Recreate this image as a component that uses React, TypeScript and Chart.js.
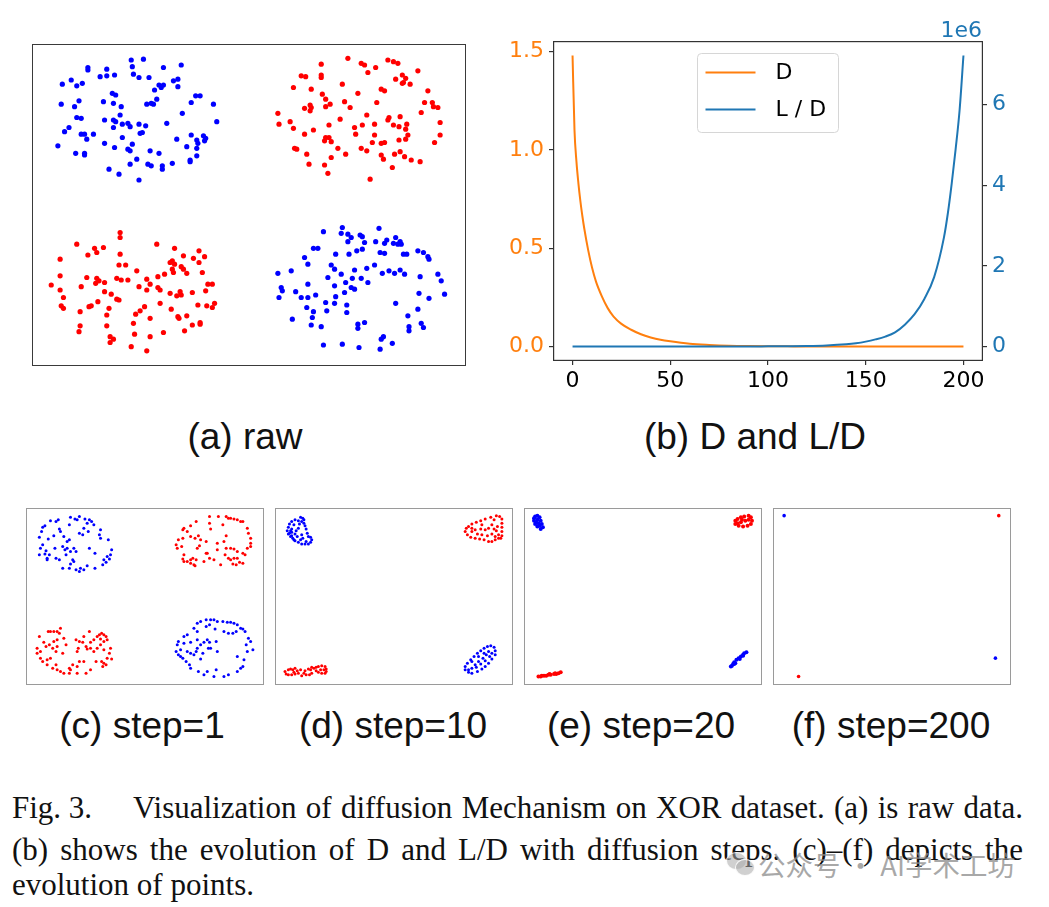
import React, { useEffect, useRef } from 'react';
import { Chart, registerables } from 'chart.js';

Chart.register(...registerables);

type Pt = [number, number];

// ---------- (a) raw XOR data ----------
const rawBlue: Pt[] = [
  [-1.06,1.74],[-0.95,1.75],[-1.45,1.65],[-1.45,1.62],[-1.28,1.63],[-1.05,1.66],[-0.77,1.65],[-0.61,1.68],[-1.60,1.50],[-1.34,1.54],
  [-1.28,1.55],[-1.21,1.56],[-1.04,1.57],[-0.99,1.53],[-0.90,1.53],[-1.68,1.45],[-1.55,1.43],[-1.50,1.46],[-0.81,1.44],[-0.77,1.44],
  [-0.79,1.41],[-0.85,1.38],[-0.68,1.49],[-0.64,1.51],[-0.64,1.42],[-1.23,1.34],[-1.20,1.32],[-1.53,1.25],[-1.69,1.21],[-1.57,1.18],
  [-1.31,1.24],[-1.22,1.22],[-1.15,1.18],[-0.92,1.21],[-0.88,1.22],[-0.86,1.21],[-0.83,1.27],[-0.48,1.31],[-0.44,1.31],[-0.52,1.23],
  [-0.32,1.21],[-0.60,1.10],[-1.16,1.08],[-1.55,1.05],[-1.51,1.04],[-1.30,1.02],[-1.22,1.02],[-1.20,1.00],[-1.22,0.93],[-1.14,0.97],
  [-1.09,0.98],[-1.07,0.94],[-0.99,0.97],[-0.93,0.95],[-0.74,0.98],[-0.29,1.00],[-1.62,0.93],[-1.66,0.88],[-1.51,0.85],[-1.48,0.85],
  [-1.46,0.79],[-1.40,0.85],[-0.98,0.86],[-0.96,0.87],[-1.14,0.81],[-1.72,0.71],[-1.30,0.74],[-1.21,0.69],[-1.05,0.73],[-1.09,0.67],
  [-1.07,0.65],[-0.65,0.79],[-0.52,0.84],[-0.56,0.70],[-0.47,0.78],[-0.46,0.74],[-0.41,0.83],[-0.39,0.80],[-0.40,0.77],[-0.47,0.68],
  [-1.56,0.62],[-1.48,0.62],[-1.48,0.60],[-0.89,0.65],[-0.81,0.62],[-0.47,0.59],[-0.53,0.54],[-0.53,0.52],[-1.01,0.55],[-1.07,0.49],
  [-0.91,0.49],[-0.88,0.47],[-0.78,0.47],[-0.78,0.43],[-0.69,0.50],[-1.26,0.43],[-1.17,0.37],[-0.99,0.30],
  [0.67,-0.32],[0.84,-0.27],[0.83,-0.34],[0.89,-0.35],[0.92,-0.39],[0.89,-0.44],[1.00,-0.36],[1.02,-0.38],[1.04,-0.45],[1.17,-0.28],
  [1.14,-0.44],[1.22,-0.46],[1.24,-0.42],[1.32,-0.39],[1.30,-0.46],[1.34,-0.47],[1.36,-0.44],[1.37,-0.47],[1.18,-0.57],[1.22,-0.58],
  [1.39,-0.59],[1.42,-0.59],[1.52,-0.55],[1.57,-0.57],[1.61,-0.62],[1.62,-0.65],[0.58,-0.52],[0.62,-0.52],[0.78,-0.59],[0.90,-0.59],
  [0.97,-0.55],[1.02,-0.53],[0.50,-0.63],[0.53,-0.71],[0.74,-0.72],[0.77,-0.77],[1.13,-0.72],[0.38,-0.79],[0.26,-0.82],[0.71,-0.87],
  [0.83,-0.83],[0.95,-0.78],[1.06,-0.76],[1.20,-0.82],[1.26,-0.79],[1.31,-0.82],[1.36,-0.78],[1.40,-0.83],[1.54,-0.86],[1.70,-0.83],
  [1.73,-0.91],[0.93,-0.88],[1.01,-0.88],[0.87,-0.93],[0.77,-0.97],[0.92,-0.99],[0.95,-1.01],[1.07,-0.93],[0.53,-0.95],[0.29,-0.99],
  [0.30,-1.03],[0.27,-1.11],[0.42,-1.04],[0.47,-1.11],[0.53,-1.11],[0.60,-1.08],[0.86,-1.05],[0.78,-1.10],[1.53,-1.06],[1.76,-1.07],
  [1.62,-1.12],[0.69,-1.17],[0.77,-1.18],[0.88,-1.20],[0.88,-1.29],[0.70,-1.27],[0.52,-1.23],[0.58,-1.28],[0.57,-1.35],[0.39,-1.37],
  [0.56,-1.44],[0.65,-1.46],[1.32,-1.18],[1.52,-1.25],[1.43,-1.33],[0.98,-1.43],[0.98,-1.48],[1.04,-1.41],[1.44,-1.46],[1.44,-1.51],
  [1.55,-1.42],[1.57,-1.47],[1.21,-1.58],[1.19,-1.61],[1.18,-1.73],[1.29,-1.66],[0.67,-1.68],[0.84,-1.67],[0.99,-1.71],
];

const rawRed: Pt[] = [
  [0.89,1.76],[0.65,1.69],[1.01,1.70],[1.04,1.68],[1.14,1.65],[1.25,1.74],[1.30,1.72],[1.34,1.70],[1.07,1.59],[1.52,1.61],
  [0.47,1.55],[0.51,1.54],[0.65,1.56],[0.65,1.53],[1.32,1.51],[1.38,1.56],[1.41,1.52],[1.39,1.47],[1.45,1.45],[1.38,1.46],
  [0.84,1.45],[0.40,1.41],[0.56,1.39],[1.19,1.39],[1.22,1.37],[1.61,1.37],[0.98,1.34],[0.66,1.33],[0.69,1.27],[0.86,1.24],
  [1.15,1.23],[1.58,1.23],[1.65,1.23],[1.66,1.18],[1.70,1.17],[0.55,1.20],[0.56,1.17],[0.50,1.16],[0.55,1.13],[0.69,1.18],
  [0.73,1.21],[0.91,1.17],[0.26,1.10],[1.06,1.08],[1.55,1.11],[1.26,1.05],[1.36,1.06],[1.25,1.02],[0.82,1.03],[0.27,0.97],
  [0.37,1.00],[0.72,0.96],[0.95,0.93],[1.02,0.96],[1.13,0.97],[1.30,0.96],[1.35,0.94],[1.42,0.97],[1.41,0.91],[0.40,0.92],
  [0.58,0.90],[0.50,0.85],[0.96,0.85],[1.13,0.84],[1.72,0.99],[1.72,0.84],[1.43,0.84],[1.41,0.79],[1.35,0.78],[0.69,0.81],
  [0.72,0.81],[0.68,0.77],[0.74,0.76],[1.11,0.75],[1.19,0.74],[1.22,0.75],[1.67,0.75],[0.41,0.68],[0.43,0.67],[0.80,0.68],
  [0.87,0.61],[1.01,0.68],[1.06,0.65],[1.19,0.60],[1.21,0.55],[1.31,0.61],[1.36,0.64],[1.40,0.58],[1.46,0.54],[1.54,0.52],
  [0.52,0.61],[0.54,0.49],[0.74,0.57],[0.68,0.48],[0.71,0.38],[1.29,0.45],[1.09,0.31],
  [-1.16,-0.33],[-1.16,-0.39],[-1.55,-0.47],[-0.83,-0.47],[-1.39,-0.52],[-1.37,-0.57],[-1.31,-0.51],[-0.67,-0.52],[-1.45,-0.60],[-1.16,-0.59],
  [-1.70,-0.65],[-0.59,-0.61],[-0.50,-0.64],[-0.45,-0.55],[-0.40,-0.62],[-0.71,-0.69],[-0.69,-0.67],[-0.67,-0.71],[-0.45,-0.69],[-1.17,-0.72],
  [-1.11,-0.72],[-0.61,-0.74],[-0.59,-0.77],[-0.69,-0.77],[-0.76,-0.83],[-0.68,-0.81],[-0.56,-0.82],[-0.42,-0.81],[-1.01,-0.79],[-1.70,-0.85],
  [-1.46,-0.87],[-1.37,-0.88],[-1.35,-0.91],[-1.38,-0.94],[-1.30,-0.93],[-1.19,-0.88],[-1.15,-0.90],[-1.09,-0.90],[-0.92,-0.89],[-0.82,-0.86],
  [-1.78,-0.96],[-1.51,-0.98],[-0.99,-0.98],[-0.89,-0.95],[-0.82,-0.99],[-0.80,-1.02],[-0.92,-1.02],[-0.37,-0.95],[-0.33,-0.95],[-1.70,-1.02],
  [-1.30,-1.04],[-1.24,-1.07],[-0.71,-1.06],[-0.62,-1.04],[-0.61,-1.08],[-0.65,-1.09],[-0.51,-1.05],[-0.39,-1.03],[-1.67,-1.11],[-1.19,-1.13],
  [-1.17,-1.14],[-1.36,-1.16],[-1.42,-1.21],[-1.44,-1.22],[-1.26,-1.24],[-0.80,-1.18],[-0.46,-1.20],[-0.38,-1.21],[-0.33,-1.23],[-0.31,-1.18],
  [-1.69,-1.21],[-1.67,-1.24],[-1.52,-1.28],[-0.94,-1.22],[-0.98,-1.27],[-1.02,-1.31],[-0.70,-1.25],[-0.64,-1.34],[-0.63,-1.36],[-0.56,-1.33],
  [-1.28,-1.32],[-0.89,-1.36],[-1.04,-1.42],[-1.28,-1.45],[-1.52,-1.45],[-1.53,-1.52],[-0.51,-1.44],[-0.44,-1.41],[-0.44,-1.43],[-0.58,-1.51],
  [-0.77,-1.53],[-1.03,-1.55],[-1.25,-1.58],[-1.22,-1.61],[-1.25,-1.65],[-0.89,-1.58],[-1.06,-1.70],[-0.92,-1.75],
];

// ---------- (c) step = 1 ----------
const step1Blue: Pt[] = [
  [-0.67,0.95],[-0.63,0.93],[-0.59,0.96],[-0.61,0.92],[-0.54,0.93],[-0.50,0.92],[-0.48,0.90],[-0.46,0.86],[-0.52,0.88],[-0.78,0.92],
  [-0.80,0.90],[-0.85,0.91],[-0.90,0.85],[-0.92,0.83],[-0.93,0.78],[-0.77,0.81],[-0.76,0.78],[-0.68,0.86],[-0.55,0.82],[-0.51,0.78],
  [-0.40,0.80],[-0.41,0.74],[-0.40,0.70],[-0.33,0.68],[-0.95,0.71],[-0.87,0.69],[-0.82,0.73],[-0.73,0.72],[-0.70,0.66],[-0.59,0.76],
  [-0.56,0.74],[-0.68,0.68],[-0.94,0.58],[-0.92,0.62],[-0.89,0.55],[-0.90,0.51],[-0.95,0.50],[-0.88,0.46],[-0.88,0.44],[-0.86,0.50],
  [-0.81,0.58],[-0.80,0.46],[-0.74,0.60],[-0.72,0.56],[-0.70,0.58],[-0.71,0.50],[-0.67,0.54],[-0.64,0.58],[-0.62,0.54],[-0.65,0.44],
  [-0.50,0.58],[-0.45,0.52],[-0.30,0.56],[-0.34,0.48],[-0.32,0.45],[-0.37,0.44],[-0.38,0.38],[-0.35,0.41],[-0.31,0.50],[-0.77,0.44],
  [-0.74,0.34],[-0.68,0.34],[-0.62,0.32],[-0.59,0.30],[-0.58,0.34],[-0.55,0.32],[-0.52,0.37],[-0.45,0.34],[-0.67,0.39],[-0.64,0.42],
  [0.47,-0.32],[0.50,-0.30],[0.55,-0.28],[0.59,-0.28],[0.62,-0.28],[0.65,-0.30],[0.70,-0.30],[0.74,-0.31],[0.77,-0.31],[0.80,-0.32],
  [0.83,-0.34],[0.86,-0.38],[0.88,-0.39],[0.90,-0.42],[0.44,-0.38],[0.47,-0.42],[0.55,-0.36],[0.58,-0.34],[0.63,-0.39],[0.71,-0.42],
  [0.75,-0.44],[0.79,-0.44],[0.82,-0.42],[0.35,-0.48],[0.38,-0.46],[0.30,-0.54],[0.29,-0.58],[0.28,-0.66],[0.30,-0.70],[0.32,-0.64],
  [0.35,-0.56],[0.41,-0.55],[0.47,-0.52],[0.50,-0.58],[0.53,-0.55],[0.56,-0.52],[0.58,-0.55],[0.59,-0.62],[0.64,-0.54],[0.47,-0.62],
  [0.46,-0.66],[0.44,-0.70],[0.41,-0.68],[0.38,-0.66],[0.34,-0.74],[0.32,-0.72],[0.37,-0.78],[0.40,-0.82],[0.41,-0.86],[0.50,-0.75],
  [0.52,-0.68],[0.57,-0.62],[0.65,-0.66],[0.93,-0.50],[0.95,-0.54],[0.91,-0.58],[0.97,-0.64],[0.92,-0.66],[0.83,-0.72],[0.89,-0.76],
  [0.88,-0.84],[0.86,-0.86],[0.83,-0.90],[0.75,-0.94],[0.71,-0.96],[0.64,-0.88],[0.62,-0.96],[0.53,-0.94],[0.56,-0.90],[0.48,-0.90],
];

const step1Red: Pt[] = [
  [0.58,0.96],[0.66,0.96],[0.73,0.96],[0.75,0.94],[0.77,0.94],[0.80,0.93],[0.83,0.92],[0.86,0.90],[0.88,0.90],[0.46,0.90],
  [0.41,0.85],[0.35,0.82],[0.34,0.80],[0.38,0.78],[0.58,0.88],[0.59,0.81],[0.70,0.86],[0.92,0.82],[0.93,0.76],[0.95,0.70],
  [0.95,0.64],[0.92,0.58],[0.95,0.60],[0.30,0.68],[0.34,0.70],[0.41,0.72],[0.45,0.70],[0.48,0.73],[0.50,0.68],[0.55,0.66],
  [0.73,0.73],[0.71,0.66],[0.29,0.58],[0.33,0.60],[0.35,0.50],[0.28,0.62],[0.47,0.58],[0.49,0.61],[0.56,0.52],[0.65,0.64],
  [0.65,0.56],[0.73,0.58],[0.77,0.58],[0.80,0.57],[0.83,0.54],[0.88,0.52],[0.90,0.50],[0.72,0.50],[0.75,0.46],[0.77,0.44],
  [0.80,0.46],[0.83,0.46],[0.85,0.41],[0.82,0.38],[0.79,0.39],[0.88,0.40],[0.34,0.45],[0.35,0.42],[0.38,0.42],[0.41,0.44],
  [0.43,0.46],[0.46,0.44],[0.41,0.40],[0.44,0.38],[0.45,0.37],[0.53,0.42],[0.62,0.44],[0.68,0.38],[0.55,0.52],[0.58,0.46],
  [-0.87,-0.42],[-0.85,-0.42],[-0.82,-0.42],[-0.76,-0.38],[-0.77,-0.44],[-0.79,-0.42],[-0.95,-0.48],[-0.91,-0.55],[-0.82,-0.54],[-0.79,-0.52],
  [-0.73,-0.50],[-0.71,-0.58],[-0.97,-0.62],[-0.97,-0.68],[-0.94,-0.66],[-0.89,-0.60],[-0.86,-0.58],[-0.83,-0.62],[-0.80,-0.66],[-0.79,-0.60],
  [-0.74,-0.68],[-0.94,-0.74],[-0.92,-0.78],[-0.88,-0.76],[-0.88,-0.82],[-0.85,-0.74],[-0.83,-0.86],[-0.80,-0.82],[-0.79,-0.88],[-0.76,-0.90],
  [-0.73,-0.92],[-0.68,-0.92],[-0.68,-0.86],[-0.65,-0.82],[-0.67,-0.88],[-0.61,-0.84],[-0.61,-0.92],[-0.59,-0.78],[-0.55,-0.78],[-0.61,-0.66],
  [-0.60,-0.62],[-0.59,-0.54],[-0.56,-0.55],[-0.53,-0.60],[-0.52,-0.63],[-0.49,-0.62],[-0.46,-0.66],[-0.43,-0.62],[-0.49,-0.55],[-0.46,-0.52],
  [-0.43,-0.48],[-0.41,-0.46],[-0.39,-0.44],[-0.37,-0.46],[-0.35,-0.48],[-0.34,-0.52],[-0.37,-0.54],[-0.40,-0.51],[-0.40,-0.58],[-0.37,-0.64],
  [-0.31,-0.62],[-0.32,-0.68],[-0.34,-0.74],[-0.30,-0.75],[-0.39,-0.78],[-0.37,-0.80],[-0.35,-0.82],[-0.38,-0.84],[-0.44,-0.78],[-0.49,-0.88],
  [-0.53,-0.92],[-0.50,-0.42],[-0.55,-0.48],[-0.62,-0.52],
];

// ---------- (d) step = 10 ----------
const step10Blue: Pt[] = [
  [-0.84,0.95],[-0.82,0.94],[-0.81,0.92],[-0.89,0.92],[-0.92,0.90],[-0.94,0.87],[-0.95,0.83],[-0.96,0.79],[-0.95,0.75],[-0.93,0.72],
  [-0.91,0.70],[-0.89,0.67],[-0.86,0.65],[-0.83,0.63],[-0.80,0.63],[-0.77,0.63],[-0.75,0.65],[-0.74,0.68],[-0.75,0.71],[-0.77,0.72],
  [-0.78,0.76],[-0.79,0.81],[-0.80,0.85],[-0.81,0.88],[-0.83,0.90],[-0.86,0.91],[-0.90,0.86],[-0.92,0.81],[-0.92,0.77],[-0.89,0.75],
  [-0.88,0.79],[-0.86,0.82],[-0.83,0.74],[-0.82,0.70],[-0.84,0.68],[-0.92,0.73],[-0.93,0.79],[-0.85,0.87],[-0.87,0.72],[-0.94,0.76],
  [-0.90,0.68],[-0.79,0.66],
  [0.87,-0.59],[0.90,-0.61],[0.91,-0.65],[0.91,-0.70],[0.88,-0.75],[0.85,-0.80],[0.82,-0.84],[0.79,-0.87],[0.75,-0.90],[0.70,-0.92],
  [0.67,-0.91],[0.64,-0.88],[0.64,-0.84],[0.66,-0.80],[0.69,-0.76],[0.72,-0.72],[0.75,-0.68],[0.78,-0.65],[0.81,-0.62],[0.84,-0.60],
  [0.85,-0.66],[0.83,-0.70],[0.80,-0.74],[0.76,-0.78],[0.73,-0.82],[0.70,-0.86],[0.74,-0.85],[0.78,-0.81],[0.82,-0.77],[0.86,-0.72],
  [0.88,-0.68],[0.67,-0.88],[0.70,-0.78],[0.76,-0.72],[0.81,-0.68],
];

const step10Red: Pt[] = [
  [0.92,0.97],[0.95,0.96],[0.97,0.93],[0.97,0.88],[0.97,0.83],[0.97,0.78],[0.97,0.73],[0.94,0.70],[0.91,0.68],[0.88,0.66],
  [0.85,0.66],[0.81,0.68],[0.77,0.69],[0.73,0.70],[0.69,0.71],[0.66,0.74],[0.64,0.78],[0.65,0.82],[0.67,0.84],[0.70,0.87],
  [0.74,0.89],[0.78,0.91],[0.82,0.93],[0.87,0.95],[0.90,0.92],[0.88,0.86],[0.85,0.82],[0.82,0.80],[0.78,0.81],[0.73,0.80],
  [0.70,0.78],[0.75,0.75],[0.79,0.74],[0.84,0.73],[0.88,0.75],[0.92,0.79],[0.93,0.84],[0.91,0.72],[0.94,0.74],[0.96,0.70],
  [0.70,0.82],[0.79,0.86],[0.90,0.81],
  [-0.98,-0.90],[-0.97,-0.93],[-0.95,-0.88],[-0.93,-0.87],[-0.91,-0.88],[-0.89,-0.86],[-0.87,-0.89],[-0.89,-0.93],[-0.92,-0.94],[-0.95,-0.94],
  [-0.86,-0.92],[-0.83,-0.95],[-0.81,-0.92],[-0.80,-0.89],[-0.77,-0.87],[-0.75,-0.88],[-0.74,-0.92],[-0.76,-0.94],[-0.72,-0.86],[-0.70,-0.85],
  [-0.68,-0.84],[-0.65,-0.83],[-0.62,-0.84],[-0.61,-0.87],[-0.61,-0.90],[-0.62,-0.92],[-0.65,-0.92],[-0.68,-0.91],[-0.70,-0.89],[-0.66,-0.88],
  [-0.63,-0.88],[-0.90,-0.91],[-0.84,-0.88],[-0.79,-0.94],[-0.74,-0.85],
];

// ---------- (e) step = 20 ----------
const step20Blue: Pt[] = [
  [-0.97,0.96],[-0.95,0.97],[-0.93,0.95],[-0.92,0.91],[-0.91,0.87],[-0.90,0.83],[-0.92,0.81],[-0.95,0.84],[-0.97,0.87],[-0.98,0.91],
  [-0.98,0.94],[-0.95,0.92],[-0.94,0.88],[-0.93,0.85],[-0.96,0.89],
  [0.79,-0.84],[0.81,-0.81],[0.82,-0.79],[0.84,-0.76],[0.86,-0.74],[0.88,-0.72],[0.90,-0.70],[0.91,-0.68],[0.93,-0.67],[0.80,-0.83],
  [0.83,-0.80],[0.87,-0.75],[0.90,-0.71],[0.82,-0.81],
];

const step20Red: Pt[] = [
  [0.83,0.91],[0.85,0.93],[0.88,0.95],[0.91,0.96],[0.95,0.97],[0.97,0.95],[0.98,0.91],[0.97,0.87],[0.94,0.85],[0.90,0.84],
  [0.86,0.85],[0.83,0.87],[0.88,0.89],[0.92,0.91],[0.95,0.92],[0.89,0.92],[0.85,0.88],
  [-0.94,-0.96],[-0.92,-0.96],[-0.89,-0.95],[-0.87,-0.95],[-0.85,-0.94],[-0.83,-0.94],[-0.80,-0.93],[-0.78,-0.93],[-0.76,-0.92],[-0.74,-0.91],
  [-0.91,-0.95],[-0.84,-0.93],[-0.79,-0.92],
];

// ---------- (f) step = 200 ----------
const step200Blue: Pt[] = [[-0.97,0.97],[0.93,-0.74]];
const step200Red: Pt[] = [[0.96,0.97],[-0.84,-0.96]];

// ---------- (b) D and L/D over diffusion steps ----------
const steps = [0,1,2,3,4,5,6,8,10,12,15,18,21,25,30,35,40,45,50,60,70,80,90,100,110,120,130,140,145,150,155,160,165,170,175,180,185,190,192,194,196,198,200];
const dValues = [1.48,1.10,0.94,0.83,0.74,0.665,0.60,0.49,0.40,0.33,0.255,0.195,0.152,0.115,0.085,0.062,0.046,0.034,0.026,0.014,0.008,0.004,0.002,0.001,0.0005,0,0,0,0,0,0,0,0,0,0,0,0,0,0,0,0,0,0];
const ldValues = [0,0,0,0,0,0,0,0,0,0,0,0,0,0,0,0,0,0,0,0,0,0,0,3000,6000,12000,26000,55000,80000,120000,175000,245000,350000,540000,800000,1180000,1720000,2700000,3300000,4050000,4900000,5850000,7220000];
const stepTicks = [0, 50, 100, 150, 200];
const dTicks = [0, 0.5, 1.0, 1.5];
const ldTicks = [0, 2000000, 4000000, 6000000];
const ldOffsetLabel = '1e6';
const seriesLabels = ['D', 'L / D'];

const panelCaptions = ['(a) raw', '(b) D and L/D', '(c) step=1', '(d) step=10', '(e) step=20', '(f) step=200'];

const BLUE = '#0000ff';
const RED = '#ff0000';
const ORANGE = '#ff7f0e';
const MPL_BLUE = '#1f77b4';
const TICK_FONT = { family: 'DejaVu Sans', size: 22 };

const framePlugin = (color: string, lw: number) => ({
  id: 'frame',
  afterDraw(chart: any) {
    const { ctx, chartArea: a } = chart;
    ctx.save();
    ctx.strokeStyle = color;
    ctx.lineWidth = lw;
    ctx.strokeRect(a.left + lw / 2, a.top + lw / 2, a.right - a.left - lw, a.bottom - a.top - lw);
    ctx.restore();
  },
});

const boxLegendPlugin = {
  id: 'boxLegend',
  afterDraw(chart: any) {
    const { ctx, chartArea: a } = chart;
    const w = 141;
    const h = 79;
    const x0 = (a.left + a.right) / 2 - w / 2;
    const y0 = a.top + 12.5;
    ctx.save();
    ctx.beginPath();
    if (ctx.roundRect) ctx.roundRect(x0, y0, w, h, 4);
    else ctx.rect(x0, y0, w, h);
    ctx.fillStyle = 'rgba(255,255,255,0.8)';
    ctx.fill();
    ctx.strokeStyle = '#d6d6d6';
    ctx.lineWidth = 1;
    ctx.stroke();
    chart.data.datasets.forEach((ds: any, i: number) => {
      const y = y0 + 19 + i * 37;
      ctx.strokeStyle = ds.borderColor;
      ctx.lineWidth = 2;
      ctx.beginPath();
      ctx.moveTo(x0 + 8, y);
      ctx.lineTo(x0 + 58, y);
      ctx.stroke();
      ctx.fillStyle = '#000';
      ctx.font = '22px "DejaVu Sans"';
      ctx.textAlign = 'left';
      ctx.textBaseline = 'middle';
      ctx.fillText(ds.label, x0 + 78, y + 1);
    });
    ctx.restore();
  },
};

const offsetLabelPlugin = {
  id: 'offsetLabel',
  afterDraw(chart: any) {
    const { ctx, chartArea: a } = chart;
    ctx.save();
    ctx.fillStyle = MPL_BLUE;
    ctx.font = '22px "DejaVu Sans"';
    ctx.textAlign = 'right';
    ctx.textBaseline = 'alphabetic';
    ctx.fillText(ldOffsetLabel, a.right - 1, a.top - 4);
    ctx.restore();
  },
};

type ScatterProps = {
  left: number; top: number; width: number; height: number;
  blue: Pt[]; red: Pt[]; radius: number; xMax: number; yMax: number; frame: string;
};

function ScatterPanel({ left, top, width, height, blue, red, radius, xMax, yMax, frame }: ScatterProps) {
  const ref = useRef<HTMLCanvasElement>(null);
  useEffect(() => {
    const chart = new Chart(ref.current as HTMLCanvasElement, {
      type: 'scatter',
      data: {
        datasets: [
          { data: blue.map(([x, y]) => ({ x, y })), backgroundColor: BLUE, borderWidth: 0, pointRadius: radius },
          { data: red.map(([x, y]) => ({ x, y })), backgroundColor: RED, borderWidth: 0, pointRadius: radius },
        ],
      },
      options: {
        responsive: false,
        animation: false,
        events: [],
        layout: { padding: 0, autoPadding: false },
        plugins: { legend: { display: false }, tooltip: { enabled: false } },
        scales: {
          x: { type: 'linear', display: false, min: -xMax, max: xMax },
          y: { type: 'linear', display: false, min: -yMax, max: yMax },
        },
      },
      plugins: [framePlugin(frame, 1)],
    } as any);
    return () => chart.destroy();
  }, []);
  return <canvas ref={ref} width={width} height={height} style={{ position: 'absolute', left, top, width, height }} />;
}

function DiffusionChart() {
  const ref = useRef<HTMLCanvasElement>(null);
  useEffect(() => {
    const gridOpts = { display: true, drawOnChartArea: false, drawTicks: true, tickLength: 4, color: '#333', lineWidth: 1.2 };
    const chart = new Chart(ref.current as HTMLCanvasElement, {
      type: 'line',
      data: {
        datasets: [
          {
            label: seriesLabels[0],
            data: steps.map((s, i) => ({ x: s, y: dValues[i] })),
            borderColor: ORANGE, backgroundColor: ORANGE, borderWidth: 2, pointRadius: 0, yAxisID: 'yD', order: 2,
            cubicInterpolationMode: 'monotone',
          },
          {
            label: seriesLabels[1],
            data: steps.map((s, i) => ({ x: s, y: ldValues[i] })),
            borderColor: MPL_BLUE, backgroundColor: MPL_BLUE, borderWidth: 2, pointRadius: 0, yAxisID: 'yLD', order: 1,
            cubicInterpolationMode: 'monotone',
          },
        ],
      },
      options: {
        responsive: false,
        animation: false,
        events: [],
        layout: { padding: { top: 41, left: 0, right: 0, bottom: 0 }, autoPadding: false },
        plugins: { legend: { display: false }, tooltip: { enabled: false } },
        scales: {
          x: {
            type: 'linear', position: 'bottom', min: -10, max: 210,
            afterBuildTicks: (ax: any) => { ax.ticks = stepTicks.map((v) => ({ value: v })); },
            afterFit: (s: any) => { s.height = 49; },
            grid: gridOpts, border: { display: false },
            ticks: { color: '#000', font: TICK_FONT, padding: 3, maxRotation: 0, autoSkip: false, callback: (v: any) => String(v) },
          },
          yD: {
            type: 'linear', position: 'left', min: -0.074, max: 1.554,
            afterBuildTicks: (ax: any) => { ax.ticks = dTicks.map((v) => ({ value: v })); },
            afterFit: (s: any) => { s.width = 73; },
            grid: gridOpts, border: { display: false },
            ticks: { color: ORANGE, font: TICK_FONT, padding: 5, callback: (v: any) => Number(v).toFixed(1) },
          },
          yLD: {
            type: 'linear', position: 'right', min: -361000, max: 7581000,
            afterBuildTicks: (ax: any) => { ax.ticks = ldTicks.map((v) => ({ value: v })); },
            afterFit: (s: any) => { s.width = 66; },
            grid: gridOpts, border: { display: false },
            ticks: { color: MPL_BLUE, font: TICK_FONT, padding: 5, callback: (v: any) => String(Math.round(Number(v) / 1e6)) },
          },
        },
      },
      plugins: [framePlugin('#333', 1.2), boxLegendPlugin, offsetLabelPlugin],
    } as any);
    return () => chart.destroy();
  }, []);
  return <canvas ref={ref} width={569} height={410} style={{ position: 'absolute', left: 480, top: 0, width: 569, height: 410 }} />;
}

const capStyle = (cx: number, top: number): React.CSSProperties => ({
  position: 'absolute', left: cx, top, transform: 'translateX(-50%)', whiteSpace: 'nowrap',
  fontFamily: '"Liberation Sans", Arial, sans-serif', fontSize: 37, lineHeight: '37px', color: '#111',
});

const bodyText: React.CSSProperties = {
  position: 'absolute', fontFamily: '"Liberation Serif", "Times New Roman", serif', fontSize: 31,
  lineHeight: '31px', color: '#111', whiteSpace: 'nowrap',
};

function WatermarkIcon() {
  const bubble = (l: number, t: number, w: number, h: number): React.CSSProperties => ({
    position: 'absolute', left: l, top: t, width: w, height: h, borderRadius: '50%',
    background: 'rgba(170,170,170,0.55)', border: '1.5px solid rgba(255,255,255,0.9)',
  });
  return (
    <div style={{ position: 'absolute', left: 726, top: 852, width: 30, height: 26 }}>
      <div style={bubble(0, 0, 19, 16)} />
      <div style={bubble(9, 7, 18, 15)} />
    </div>
  );
}

export default function App() {
  const small = { top: 508, width: 238, height: 177, xMax: 1.07, yMax: 1.062, frame: '#9a9a9a' };
  return (
    <div style={{ position: 'absolute', left: 0, top: 0, width: 1049, height: 907, background: '#fff', overflow: 'hidden' }}>
      <ScatterPanel left={32} top={44} width={434} height={322} blue={rawBlue} red={rawRed} radius={2.6} xMax={1.953} yMax={1.932} frame="#3a3a3a" />
      <DiffusionChart />
      <ScatterPanel left={26} {...small} blue={step1Blue} red={step1Red} radius={1.5} />
      <ScatterPanel left={275} {...small} blue={step10Blue} red={step10Red} radius={1.5} />
      <ScatterPanel left={524} {...small} blue={step20Blue} red={step20Red} radius={2} />
      <ScatterPanel left={773} {...small} blue={step200Blue} red={step200Red} radius={1.8} />

      <div style={capStyle(245, 418)}>{panelCaptions[0]}</div>
      <div style={capStyle(755, 418)}>{panelCaptions[1]}</div>
      <div style={capStyle(142, 707)}>{panelCaptions[2]}</div>
      <div style={capStyle(393, 707)}>{panelCaptions[3]}</div>
      <div style={capStyle(641, 707)}>{panelCaptions[4]}</div>
      <div style={capStyle(891, 707)}>{panelCaptions[5]}</div>

      <div style={{ ...bodyText, left: 12, top: 792 }}>Fig. 3.</div>
      <div style={{ ...bodyText, left: 133, top: 792, width: 890, whiteSpace: 'normal', textAlign: 'justify', textAlignLast: 'justify' }}>
        Visualization of diffusion Mechanism on XOR dataset. (a) is raw data.
      </div>
      <div style={{ ...bodyText, left: 12, top: 834, width: 1011, whiteSpace: 'normal', textAlign: 'justify', textAlignLast: 'justify' }}>
        (b) shows the evolution of D and L/D with diffusion steps. (c)–(f) depicts the
      </div>
      <div style={{ ...bodyText, left: 12, top: 869 }}>evolution of points.</div>

      <WatermarkIcon />
      <div style={{ position: 'absolute', left: 758, top: 848, fontFamily: '"Noto Sans CJK SC", sans-serif', fontSize: 27.5, lineHeight: '32px', color: 'rgba(140,140,140,0.75)', whiteSpace: 'nowrap' }}>
        公众号 · AI学术工坊
      </div>
    </div>
  );
}
